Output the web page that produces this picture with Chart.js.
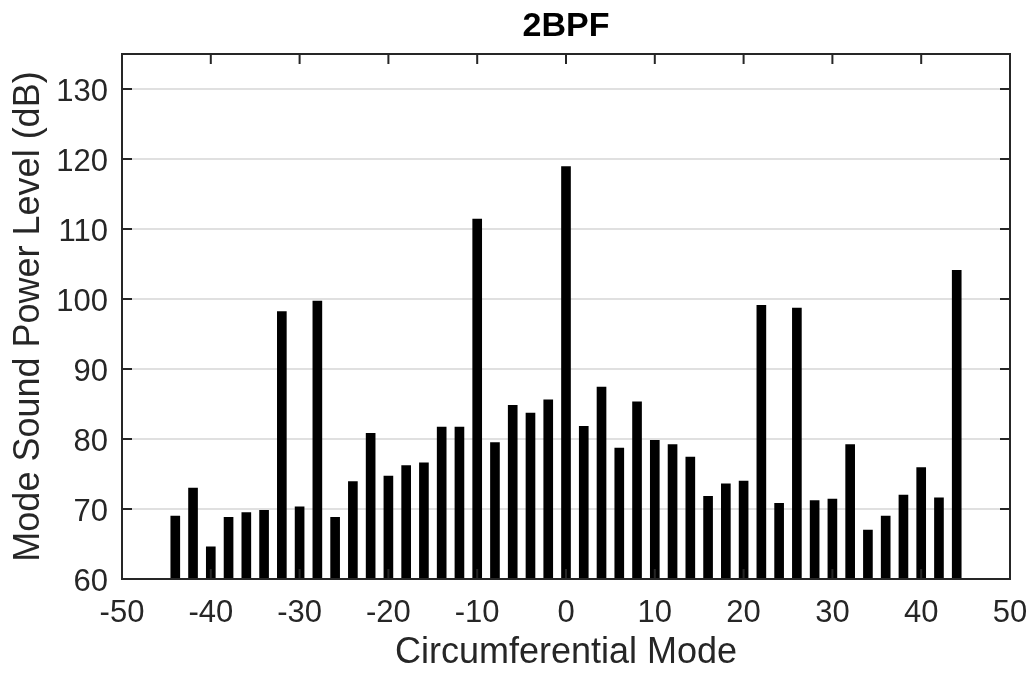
<!DOCTYPE html>
<html>
<head>
<meta charset="utf-8">
<script src="https://cdn.jsdelivr.net/npm/chart.js@4.4.1/dist/chart.umd.min.js"></script>
<style>
  html, body { margin: 0; padding: 0; background: #fff; }
  #wrap { width: 1036px; height: 675px; }
</style>
</head>
<body>
<div id="wrap"><canvas id="modeChart" width="1036" height="675"></canvas></div>
<script>
// Circumferential modes and their sound power level (dB)
const modes = [-44, -42, -40, -38, -36, -34, -32, -30, -28, -26, -24, -22, -20, -18, -16,
  -14, -12, -10, -8, -6, -4, -2, 0, 2, 4, 6, 8, 10, 12, 14,
  16, 18, 20, 22, 24, 26, 28, 30, 32, 34, 36, 38, 40, 42, 44];
const levels = [69.0, 73.0, 64.6, 68.8, 69.5, 69.8, 98.2, 70.3, 99.7, 68.8, 73.9, 80.8, 74.7, 76.2, 76.6,
  81.7, 81.7, 111.4, 79.5, 84.8, 83.7, 85.6, 118.9, 81.8, 87.4, 78.7, 85.3, 79.8, 79.2, 77.4,
  71.8, 73.6, 74.0, 99.1, 70.8, 98.7, 71.2, 71.4, 79.2, 67.0, 69.0, 72.0, 75.9, 71.6, 104.1];

const xMin = -50, xMax = 50, xStep = 10;
const yMin = 60, yMax = 135, yStep = 10;
const chartTitle = '2BPF';

const FONT = "'Liberation Sans', Arial, Helvetica, sans-serif";
const AXIS_COLOR = '#262626';

// box around the axes with inward tick marks (MATLAB style), plus the title over the plot
const framePlugin = {
  id: 'frame',
  afterDraw(chart) {
    const { ctx, chartArea: a, scales: { x, y } } = chart;
    const len = 10;
    ctx.save();
    ctx.strokeStyle = AXIS_COLOR;
    ctx.lineWidth = 2;
    ctx.strokeRect(a.left, a.top, a.right - a.left, a.bottom - a.top);
    ctx.beginPath();
    x.ticks.forEach(t => {
      const px = x.getPixelForValue(t.value);
      ctx.moveTo(px, a.bottom); ctx.lineTo(px, a.bottom - len);
      ctx.moveTo(px, a.top); ctx.lineTo(px, a.top + len);
    });
    y.ticks.forEach(t => {
      const py = y.getPixelForValue(t.value);
      ctx.moveTo(a.left, py); ctx.lineTo(a.left + len, py);
      ctx.moveTo(a.right, py); ctx.lineTo(a.right - len, py);
    });
    ctx.stroke();

    // title centred on the axes
    ctx.fillStyle = '#000000';
    ctx.font = 'bold 34px ' + FONT;
    ctx.textAlign = 'center';
    ctx.textBaseline = 'middle';
    ctx.fillText(chartTitle, (a.left + a.right) / 2, a.top / 2);
    ctx.restore();
  }
};

const ctx = document.getElementById('modeChart').getContext('2d');
new Chart(ctx, {
  type: 'bar',
  data: {
    datasets: [{
      label: chartTitle,
      data: modes.map((m, i) => ({ x: m, y: levels[i] })),
      backgroundColor: '#000000',
      borderWidth: 0,
      barThickness: 9
    }]
  },
  options: {
    responsive: false,
    animation: false,
    layout: { padding: { left: 0, right: 26, top: 54, bottom: 0 } },
    plugins: {
      legend: { display: false },
      tooltip: { enabled: false },
      title: { display: false }
    },
    scales: {
      x: {
        type: 'linear',
        min: xMin,
        max: xMax,
        offset: false,
        grid: { display: false, offset: false, drawTicks: false },
        border: { display: false },
        ticks: {
          stepSize: xStep,
          padding: 16,
          color: AXIS_COLOR,
          font: { family: FONT, size: 31 },
          maxRotation: 0
        },
        title: {
          display: true,
          text: 'Circumferential Mode',
          color: AXIS_COLOR,
          font: { family: FONT, size: 36 },
          padding: { top: 0, bottom: 0 }
        },
        afterFit: s => { s.height = 96; s.paddingLeft = 0; s.paddingRight = 0; }
      },
      y: {
        min: yMin,
        max: yMax,
        grid: { color: '#e0e0e0', lineWidth: 2, drawTicks: false },
        border: { display: false },
        ticks: {
          stepSize: yStep,
          includeBounds: false,
          padding: 14,
          labelOffset: 3,
          color: AXIS_COLOR,
          font: { family: FONT, size: 31 }
        },
        title: {
          display: true,
          text: 'Mode Sound Power Level (dB)',
          color: AXIS_COLOR,
          font: { family: FONT, size: 36 },
          padding: { top: 7, bottom: 0 }
        },
        afterFit: s => { s.width = 122; s.paddingTop = 0; s.paddingBottom = 0; }
      }
    }
  },
  plugins: [framePlugin]
});
</script>
</body>
</html>
